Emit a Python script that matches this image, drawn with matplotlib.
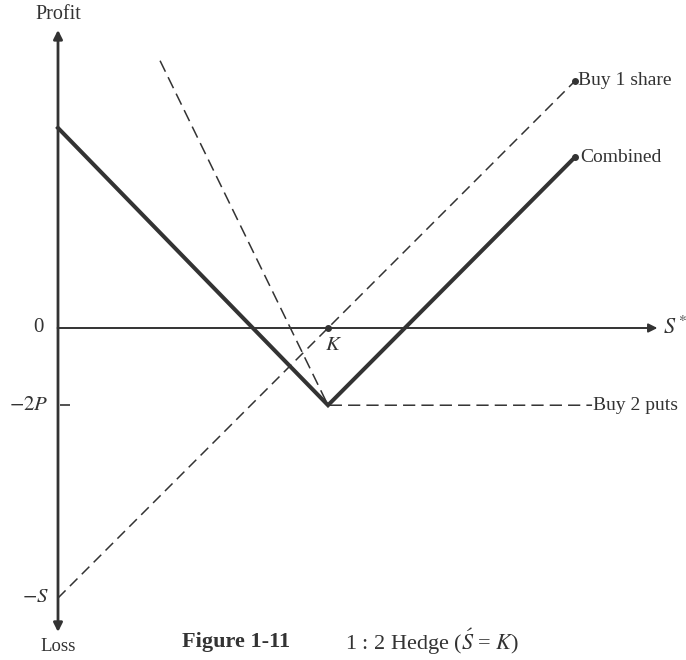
import matplotlib.pyplot as plt

plt.rcParams['font.family'] = ['Liberation Serif', 'DejaVu Serif']
plt.rcParams['mathtext.fontset'] = 'stix'

# Valeurs (unites : K = S = 10)
K = 10.0
S = 10.0
P = 1.43

# Buy 1 share
share_x = [0.0, 19.15]
share_y = [-10.0, 9.15]

# Buy 2 puts
puts_x = [3.78, 10.0, 19.78]
puts_y = [9.9, -2.86, -2.86]

# Combined
comb_x = [0.0, 10.0, 19.15]
comb_y = [7.41, -2.86, 6.33]

ink = '#333333'

fig = plt.figure(figsize=(6.86, 6.6), dpi=100)
ax = fig.add_axes([0, 0, 1, 1])
ax.set_xlim(-58 / 27.0, (686 - 58) / 27.0)
ax.set_ylim(-(660 - 328) / 27.0, 328 / 27.0)
ax.axis('off')

# Axes avec fleches
ax.annotate('', xy=(22.2, 0), xytext=(0, 0),
            arrowprops=dict(arrowstyle='-|>', color=ink, lw=1.4, mutation_scale=13,
                            shrinkA=0, shrinkB=0))
ax.annotate('', xy=(0, 11.04), xytext=(0, 0),
            arrowprops=dict(arrowstyle='-|>', color=ink, lw=2.0, mutation_scale=13,
                            shrinkA=0, shrinkB=0))
ax.annotate('', xy=(0, -11.26), xytext=(0, 0),
            arrowprops=dict(arrowstyle='-|>', color=ink, lw=2.0, mutation_scale=13,
                            shrinkA=0, shrinkB=0))

# Courbes
ax.plot(share_x, share_y, color=ink, lw=1.1, dashes=(7, 4))
ax.plot(puts_x, puts_y, color=ink, lw=1.1, dashes=(8, 4))
ax.plot(comb_x, comb_y, color=ink, lw=2.9, solid_joinstyle='miter')

# Points
ax.plot([share_x[-1], comb_x[-1], K], [share_y[-1], comb_y[-1], 0],
        'o', color=ink, ms=4)
ax.plot([0.25], [-2.86], marker='_', color=ink, ms=7, mew=1.2)

# Textes
fs = 14
ax.text(0, 11.6, 'Profit', ha='center', va='center', fontsize=14.5, color=ink)
ax.text(0, -11.8, 'Loss', ha='center', va='center', fontsize=13.5, color=ink)
ax.text(-0.55, 0, '0', ha='right', va='center', fontsize=15, color=ink)
ax.text(-0.35, -2.86, r'$-2P$', ha='right', va='center', fontsize=15, color=ink)
ax.text(-0.35, -10.0, r'$-S$', ha='right', va='center', fontsize=15, color=ink)
ax.text(22.4, 0, r'$S^*$', ha='left', va='center', fontsize=16, color=ink)
ax.text(K + 0.2, -0.63, r'$K$', ha='center', va='center', fontsize=15, color=ink)
ax.text(share_x[-1] + 0.12, share_y[-1], 'Buy 1 share', ha='left', va='center',
        fontsize=fs, color=ink)
ax.text(comb_x[-1] + 0.18, comb_y[-1], 'Combined', ha='left', va='center',
        fontsize=fs, color=ink)
ax.text(puts_x[-1] + 0.05, puts_y[-1], 'Buy 2 puts', ha='left', va='center',
        fontsize=fs, color=ink)

# Legende de la figure
ax.text((182 - 58) / 27.0, -11.63, 'Figure 1-11', ha='left', va='center', fontsize=16,
        fontweight='bold', color=ink)
ax.text((345 - 58) / 27.0, -11.63, r'1 : 2 Hedge ($\acute{S}$ = $K$)', ha='left',
        va='center', fontsize=16, color=ink)

fig.savefig('out.png', dpi=100)
